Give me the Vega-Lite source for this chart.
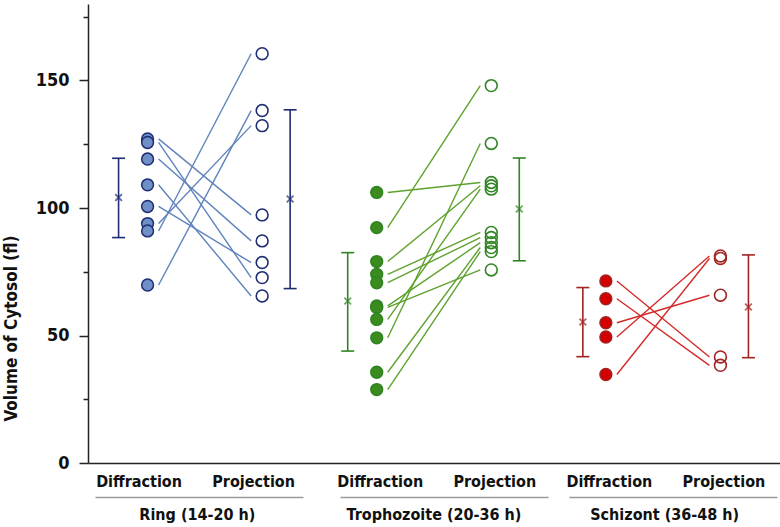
{
  "$schema": "https://vega.github.io/schema/vega-lite/v6.json",
  "width": 692,
  "height": 459,
  "autosize": "none",
  "padding": {"left": 88, "top": 4, "right": 0, "bottom": 64},
  "background": "white",
  "config": {"view": {"stroke": null}, "font": "DejaVu Sans Condensed"},
  "datasets": {
    "stages": [
      {"stage": "Ring (14-20 h)"},
      {"stage": "Trophozoite (20-36 h)"},
      {"stage": "Schizont (36-48 h)"}
    ],
    "pairs": [
      {"stage": "Ring (14-20 h)", "d": 127.1, "p": 97.3},
      {"stage": "Ring (14-20 h)", "d": 125.7, "p": 72.7},
      {"stage": "Ring (14-20 h)", "d": 119.2, "p": 87.1},
      {"stage": "Ring (14-20 h)", "d": 109.1, "p": 65.5},
      {"stage": "Ring (14-20 h)", "d": 100.6, "p": 78.6},
      {"stage": "Ring (14-20 h)", "d": 93.9, "p": 132.3},
      {"stage": "Ring (14-20 h)", "d": 91.0, "p": 160.5},
      {"stage": "Ring (14-20 h)", "d": 69.8, "p": 138.2},
      {"stage": "Trophozoite (20-36 h)", "d": 106.1, "p": 110.0},
      {"stage": "Trophozoite (20-36 h)", "d": 92.3, "p": 148.0},
      {"stage": "Trophozoite (20-36 h)", "d": 79.0, "p": 108.7},
      {"stage": "Trophozoite (20-36 h)", "d": 74.0, "p": 90.4},
      {"stage": "Trophozoite (20-36 h)", "d": 70.7, "p": 88.4},
      {"stage": "Trophozoite (20-36 h)", "d": 61.6, "p": 86.4},
      {"stage": "Trophozoite (20-36 h)", "d": 61.0, "p": 75.7},
      {"stage": "Trophozoite (20-36 h)", "d": 56.3, "p": 107.4},
      {"stage": "Trophozoite (20-36 h)", "d": 49.1, "p": 125.3},
      {"stage": "Trophozoite (20-36 h)", "d": 35.6, "p": 84.5},
      {"stage": "Trophozoite (20-36 h)", "d": 28.8, "p": 82.9},
      {"stage": "Schizont (36-48 h)", "d": 71.4, "p": 41.6},
      {"stage": "Schizont (36-48 h)", "d": 64.4, "p": 38.3},
      {"stage": "Schizont (36-48 h)", "d": 55.0, "p": 65.8},
      {"stage": "Schizont (36-48 h)", "d": 49.4, "p": 81.2},
      {"stage": "Schizont (36-48 h)", "d": 34.7, "p": 80.2}
    ],
    "stats": [
      {"stage": "Ring (14-20 h)", "method": "Diffraction", "mean": 104.1, "lo": 88.4, "hi": 119.5},
      {"stage": "Ring (14-20 h)", "method": "Projection", "mean": 103.5, "lo": 68.4, "hi": 138.5},
      {"stage": "Trophozoite (20-36 h)", "method": "Diffraction", "mean": 63.5, "lo": 43.9, "hi": 82.5},
      {"stage": "Trophozoite (20-36 h)", "method": "Projection", "mean": 99.6, "lo": 79.3, "hi": 119.6},
      {"stage": "Schizont (36-48 h)", "method": "Diffraction", "mean": 55.3, "lo": 41.7, "hi": 68.8},
      {"stage": "Schizont (36-48 h)", "method": "Projection", "mean": 61.2, "lo": 41.3, "hi": 81.6}
    ]
  },
  "layer": [
    {
      "data": {"name": "stages"},
      "mark": {"type": "point", "opacity": 0},
      "encoding": {
        "x": {
          "field": "stage",
          "type": "nominal",
          "scale": {"type": "band", "domain": ["Ring (14-20 h)", "Trophozoite (20-36 h)", "Schizont (36-48 h)"], "padding": 0},
          "axis": {
            "orient": "bottom",
            "offset": 34,
            "title": null,
            "ticks": false,
            "labelAngle": 0,
            "labelPadding": 9,
            "labelFont": "DejaVu Sans Condensed",
            "labelFontWeight": "bold",
            "labelFontSize": 16,
            "labelColor": "#111111",
            "labelOffset": {"condition": {"test": "indexof(datum.value, 'Ring') == 0", "value": -6}, "value": 0},
            "domainColor": "#9a9a9a",
            "domainWidth": 1.5,
            "domainDash": [208, 37, 208, 21, 208, 10],
            "domainDashOffset": 685
          }
        }
      }
    },
    {
      "layer": [
        {
          "data": {"name": "pairs"},
          "transform": [
            {"calculate": "datum.stage + '|Diffraction'", "as": "kd"},
            {"calculate": "datum.stage + '|Projection'", "as": "kp"}
          ],
          "mark": {"type": "rule", "xOffset": 11, "x2Offset": -11, "strokeWidth": 1.4},
          "encoding": {
            "x": {
              "field": "kd",
              "type": "nominal",
              "scale": {"type": "point", "padding": 0.52, "domain": ["Ring (14-20 h)|Diffraction", "Ring (14-20 h)|Projection", "Trophozoite (20-36 h)|Diffraction", "Trophozoite (20-36 h)|Projection", "Schizont (36-48 h)|Diffraction", "Schizont (36-48 h)|Projection"]},
              "axis": {
                "orient": "bottom",
                "title": null,
                "ticks": false,
                "labelAngle": 0,
                "labelPadding": 10,
                "labelExpr": "split(datum.label, '|')[1]",
                "labelFont": "DejaVu Sans Condensed",
                "labelFontWeight": "bold",
                "labelFontSize": 16,
                "labelColor": "#111111",
                "labelOffset": {"condition": {"test": "indexof(datum.value, 'Ring') == 0", "value": -9}, "value": 3},
                "domainColor": "#222222",
                "domainWidth": 1.5
              }
            },
            "x2": {"field": "kp"},
            "y": {
              "field": "d",
              "type": "quantitative",
              "scale": {"domain": [0, 180], "nice": false},
              "axis": {
                "title": "Volume of Cytosol (fl)",
                "titleFont": "DejaVu Sans Condensed",
                "titleFontWeight": "bold",
                "titleFontSize": 17,
                "titleColor": "#111111",
                "titleX": -68,
                "titleY": 324,
                "values": [0, 25, 50, 75, 100, 125, 150, 175],
                "labelExpr": "datum.value % 50 == 0 ? datum.label : ''",
                "tickSize": {"condition": {"test": "datum.value % 50 == 0", "value": 9}, "value": 5},
                "tickColor": "#222222",
                "tickWidth": 1.5,
                "domainColor": "#222222",
                "domainWidth": 1.5,
                "grid": false,
                "labelFont": "DejaVu Sans Condensed",
                "labelFontWeight": "bold",
                "labelFontSize": 18,
                "labelColor": "#111111",
                "labelPadding": 10
              }
            },
            "y2": {"field": "p"},
            "color": {
              "field": "stage",
              "type": "nominal",
              "scale": {"domain": ["Ring (14-20 h)", "Trophozoite (20-36 h)", "Schizont (36-48 h)"], "range": ["#5f83bc", "#5ea22e", "#d42a2a"]},
              "legend": null
            }
          }
        },
        {
          "data": {"name": "stats"},
          "transform": [{"calculate": "datum.stage + '|' + datum.method", "as": "k"}],
          "mark": {"type": "rule", "strokeWidth": 1.6, "xOffset": {"expr": "datum.method == 'Diffraction' ? (datum.stage == 'Schizont (36-48 h)' ? -23 : -29) : 28"}},
          "encoding": {
            "x": {"field": "k", "type": "nominal"},
            "y": {"field": "lo", "type": "quantitative"},
            "y2": {"field": "hi"},
            "stroke": {
              "field": "stage",
              "type": "nominal",
              "scale": {"domain": ["Ring (14-20 h)", "Trophozoite (20-36 h)", "Schizont (36-48 h)"], "range": ["#1f2d72", "#2f8522", "#a32222"]},
              "legend": null
            }
          }
        },
        {
          "data": {"name": "stats"},
          "transform": [
            {"calculate": "datum.stage + '|' + datum.method", "as": "k"},
            {"fold": ["lo", "hi"], "as": ["end", "yv"]}
          ],
          "mark": {
            "type": "rule",
            "strokeWidth": 1.6,
            "xOffset": {"expr": "(datum.method == 'Diffraction' ? (datum.stage == 'Schizont (36-48 h)' ? -23 : -29) : 28) - 6.5"},
            "x2Offset": {"expr": "(datum.method == 'Diffraction' ? (datum.stage == 'Schizont (36-48 h)' ? -23 : -29) : 28) + 6.5"}
          },
          "encoding": {
            "x": {"field": "k", "type": "nominal"},
            "x2": {"field": "k"},
            "y": {"field": "yv", "type": "quantitative"},
            "stroke": {"field": "stage", "type": "nominal", "legend": null}
          }
        },
        {
          "data": {"name": "stats"},
          "transform": [{"calculate": "datum.stage + '|' + datum.method", "as": "k"}],
          "mark": {"type": "point", "shape": "M-1,-1L1,1M-1,1L1,-1", "filled": false, "size": 45, "strokeWidth": 1.8, "xOffset": {"expr": "datum.method == 'Diffraction' ? (datum.stage == 'Schizont (36-48 h)' ? -23 : -29) : 28"}},
          "encoding": {
            "x": {"field": "k", "type": "nominal"},
            "y": {"field": "mean", "type": "quantitative"},
            "stroke": {"field": "stage", "type": "nominal", "legend": null}
          }
        },
        {
          "data": {"name": "pairs"},
          "transform": [{"calculate": "datum.stage + '|Diffraction'", "as": "kd"}],
          "mark": {"type": "point", "shape": "circle", "filled": true, "size": 140, "strokeWidth": 1.5, "opacity": 1},
          "encoding": {
            "x": {"field": "kd", "type": "nominal"},
            "y": {"field": "d", "type": "quantitative"},
            "fill": {
              "field": "stage",
              "type": "nominal",
              "scale": {"domain": ["Ring (14-20 h)", "Trophozoite (20-36 h)", "Schizont (36-48 h)"], "range": ["#6f8fc7", "#3b8b1e", "#d30000"]},
              "legend": null
            },
            "stroke": {"field": "stage", "type": "nominal", "legend": null}
          }
        },
        {
          "data": {"name": "pairs"},
          "transform": [{"calculate": "datum.stage + '|Projection'", "as": "kp"}],
          "mark": {"type": "point", "shape": "circle", "filled": false, "size": 140, "strokeWidth": 1.6, "opacity": 1},
          "encoding": {
            "x": {"field": "kp", "type": "nominal"},
            "y": {"field": "p", "type": "quantitative"},
            "stroke": {"field": "stage", "type": "nominal", "legend": null}
          }
        }
      ]
    }
  ],
  "resolve": {"scale": {"x": "independent"}, "axis": {"x": "independent"}}
}
